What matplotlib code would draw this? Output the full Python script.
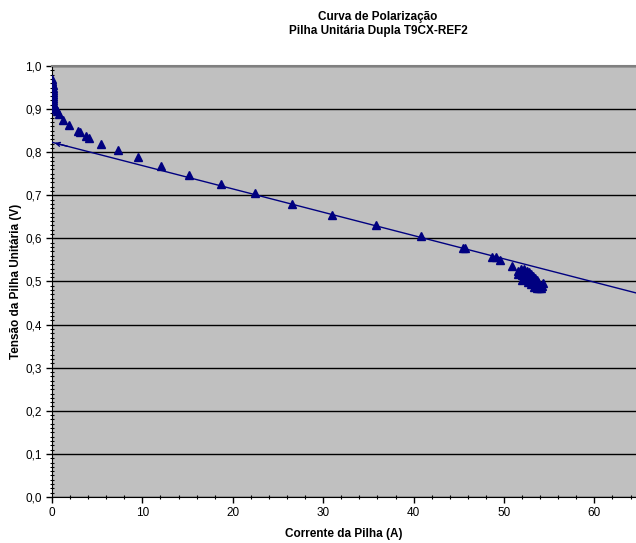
import matplotlib
matplotlib.use("Agg")
import matplotlib.pyplot as plt
from matplotlib.ticker import MultipleLocator, FuncFormatter

plt.rcParams["font.family"] = ["Liberation Sans", "DejaVu Sans"]

# ---------------------------------------------------------------------------
# data
# ---------------------------------------------------------------------------
corrente = [0.05, 0.05, 0.05, 0.06, 0.06, 0.07, 0.07, 0.08, 0.08, 0.10,
            0.12, 0.15, 0.20, 0.30, 0.40, 0.60, 0.82, 1.26, 1.92, 2.85,
            3.10, 3.77, 4.05, 5.43, 7.27, 9.56, 12.1, 15.2, 18.7, 22.4,
            26.5, 31.0, 35.8, 40.8, 45.5, 45.7, 48.7, 49.1, 49.6, 50.9,
            51.5, 51.6, 51.9, 52.0, 52.0, 52.2, 52.3, 52.4, 52.5, 52.6,
            52.7, 52.8, 52.9, 53.0, 53.0, 53.1, 53.2, 53.3, 53.3, 53.4,
            53.5, 53.6, 53.6, 53.7, 53.8, 53.9, 54.0, 54.1, 54.2, 54.3]
tensao = [0.970, 0.965, 0.960, 0.955, 0.950, 0.945, 0.940, 0.935, 0.930, 0.925,
          0.920, 0.915, 0.910, 0.905, 0.900, 0.895, 0.888, 0.875, 0.862, 0.849,
          0.846, 0.838, 0.834, 0.820, 0.805, 0.788, 0.768, 0.748, 0.727, 0.706,
          0.680, 0.655, 0.632, 0.605, 0.578, 0.577, 0.558, 0.556, 0.550, 0.536,
          0.517, 0.525, 0.530, 0.515, 0.503, 0.528, 0.520, 0.505, 0.525, 0.515,
          0.500, 0.522, 0.510, 0.518, 0.495, 0.505, 0.512, 0.500, 0.488, 0.508,
          0.495, 0.503, 0.485, 0.490, 0.498, 0.486, 0.493, 0.484, 0.490, 0.497]

# linear trend line (Excel)
trend_a = 0.823      # intercept (V)
trend_b = -0.00541   # slope (V/A)
trend_x = [0, 64.6]

titulo = "Curva de Polarização\nPilha Unitária Dupla T9CX-REF2"
xlabel = "Corrente da Pilha (A)"
ylabel = "Tensão da Pilha Unitária (V)"

navy = "#000080"

# ---------------------------------------------------------------------------
# plot
# ---------------------------------------------------------------------------
fig = plt.figure(figsize=(6.36, 5.43), dpi=100)
ax = fig.add_axes([52 / 636, 1 - 497 / 543, 584 / 636, 431 / 543])
ax.set_facecolor("#C0C0C0")

ax.set_xlim(trend_x[0], trend_x[1])
ax.set_ylim(0, 1.0)

ax.yaxis.set_major_locator(MultipleLocator(0.1))
ax.yaxis.set_minor_locator(MultipleLocator(0.01))
ax.xaxis.set_major_locator(MultipleLocator(10))
ax.xaxis.set_minor_locator(MultipleLocator(2))
ax.yaxis.set_major_formatter(FuncFormatter(lambda v, p: f"{v:.1f}".replace(".", ",")))

ax.grid(axis="y", which="major", color="black", linewidth=1)
ax.set_axisbelow(True)

ax.tick_params(which="major", direction="out", length=4, width=1, labelsize=8.5, colors="black")
ax.tick_params(which="minor", direction="inout", length=3, width=0.8)

for side in ["left", "bottom"]:
    ax.spines[side].set_color("black")
ax.spines["top"].set_color("#808080")
ax.spines["top"].set_linewidth(1.5)
ax.spines["right"].set_visible(False)

ty = [trend_a + trend_b * x for x in trend_x]
ax.plot(trend_x, ty, color=navy, linewidth=1, zorder=3)
ax.annotate("", xy=(trend_x[0], ty[0]), xytext=(2.0, trend_a + trend_b * 2.0),
            arrowprops=dict(arrowstyle="->", color=navy, lw=1, mutation_scale=7), zorder=3)

ax.plot(corrente, tensao, linestyle="none", marker="^", markersize=6,
        color=navy, markeredgecolor=navy, zorder=4)

ax.set_xlabel(xlabel, fontsize=8.5, fontweight="bold", labelpad=6)
ax.set_ylabel(ylabel, fontsize=8.5, fontweight="bold", labelpad=2)
fig.text(378 / 636, 1 - 24 / 543, titulo, ha="center", va="center",
         fontsize=8.5, fontweight="bold", linespacing=1.3)

fig.savefig("out.png", dpi=100)
